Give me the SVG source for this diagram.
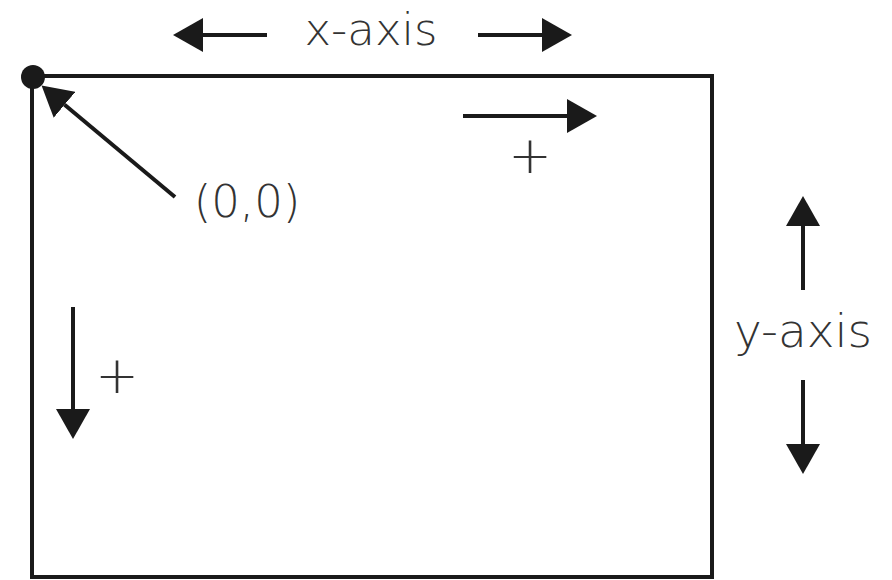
<svg xmlns="http://www.w3.org/2000/svg" width="892" height="580" viewBox="0 0 892 580">
<style>
.frame{fill:none;stroke:#1a1a1a;stroke-width:4}
.conn{fill:none;stroke:#1a1a1a;stroke-width:4;marker-end:url(#head)}
.lbl{font-family:"DejaVu Sans","Liberation Sans",sans-serif;font-weight:200;fill:#333;text-anchor:middle}
</style>
<defs>
<marker id="head" markerUnits="userSpaceOnUse" viewBox="0 0 30 34" markerWidth="30" markerHeight="34" refX="0" refY="17" orient="auto">
<path d="M0,0 L30,17 L0,34 Z" fill="#1a1a1a"/>
</marker>
</defs>
<rect fill="#fff" x="0" y="0" width="892" height="580"/>
<g id="screen">
<rect class="frame" x="32" y="76" width="680" height="501"/>
</g>
<g id="origin">
<circle cx="33" cy="77" r="12" fill="#1a1a1a"/>
</g>
<g id="origin-label"><text class="lbl" x="247" y="217" font-size="45">(0,0)</text></g>
<g id="x-axis-label"><text class="lbl" x="371" y="45" font-size="45">x-axis</text></g>
<g id="y-axis-label"><text class="lbl" x="803" y="347" font-size="47">y-axis</text></g>
<g id="x-plus"><text class="lbl" x="530" y="173" font-size="52">+</text></g>
<g id="y-plus"><text class="lbl" x="117" y="393" font-size="52">+</text></g>
<g id="connectors">
<line class="conn" x1="267" y1="35" x2="203" y2="35"/>
<line class="conn" x1="478" y1="35" x2="542" y2="35"/>
<line class="conn" x1="463" y1="116" x2="567" y2="116"/>
<line class="conn" x1="803" y1="290" x2="803" y2="226"/>
<line class="conn" x1="803" y1="380" x2="803" y2="444"/>
<line class="conn" x1="73" y1="307" x2="73" y2="409"/>
<line class="conn" x1="175" y1="197" x2="64.6" y2="104.8"/>
</g>
</svg>
